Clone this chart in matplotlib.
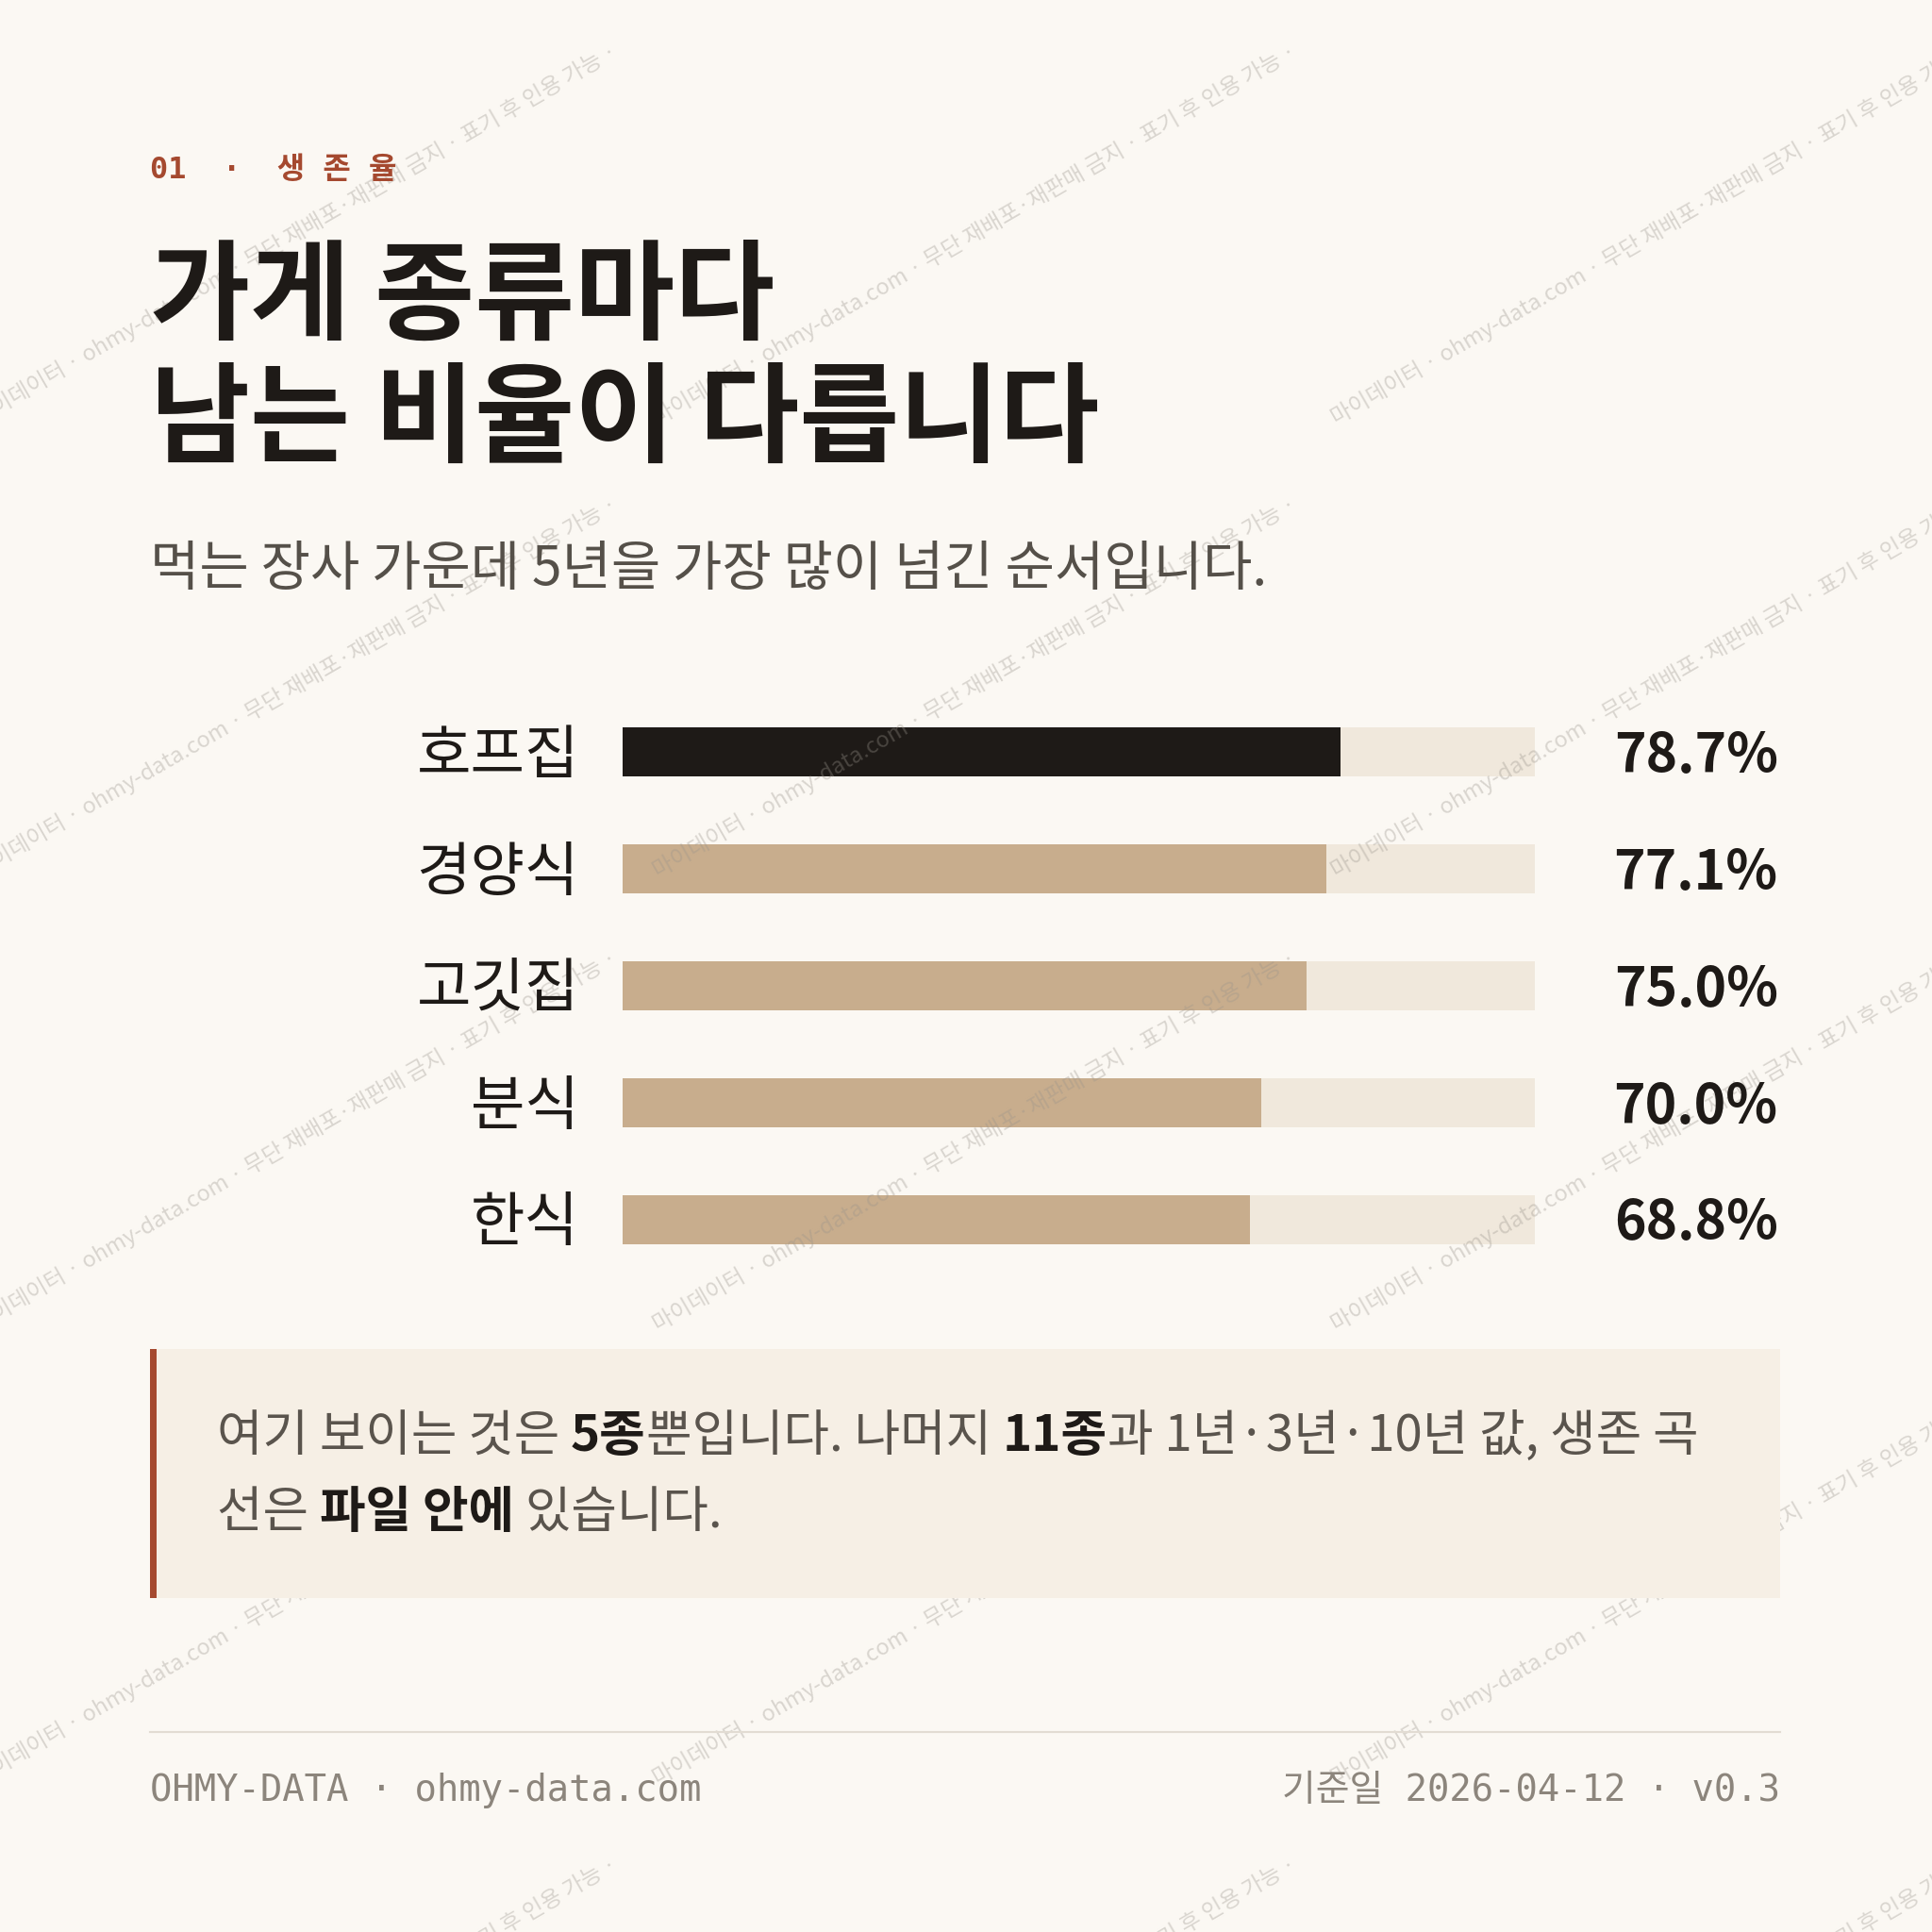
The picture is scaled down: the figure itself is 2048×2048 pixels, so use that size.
import matplotlib
matplotlib.use("Agg")
import matplotlib.pyplot as plt
from matplotlib.patches import Rectangle
from matplotlib.lines import Line2D
import matplotlib.transforms as mtransforms

categories = ["호프집", "경양식", "고깃집", "분식", "한식"]
values = [78.7, 77.1, 75.0, 70.0, 68.8]
value_labels = ["78.7%", "77.1%", "75.0%", "70.0%", "68.8%"]

BG = "#FBF8F3"; DARK = "#1E1A17"; TAN = "#C8AD8D"; TRACK = "#F0E8DC"; RUST = "#A5492F"
KR = ["Noto Sans CJK KR", "DejaVu Sans"]
MONO = ["DejaVu Sans Mono", "Noto Sans CJK KR"]
plt.rcParams['font.family'] = KR

S = 1568.0
fig = plt.figure(figsize=(20.48, 20.48), dpi=100, facecolor=BG)
def fx(x): return x / S
def fy(y): return 1 - y / S

# watermark
wm = "마이데이터 · ohmy-data.com · 무단 재배포·재판매 금지 · 표기 후 인용 가능 · "
for gx in range(-2, 4):
    for gy in range(0, 6):
        x0 = -20 + gx * 551
        y0 = 340 + gy * 368
        fig.text(fx(x0), fy(y0), wm, rotation=30, fontsize=17, color="#9A948C", alpha=0.35,
                 ha="left", va="center", rotation_mode="anchor", zorder=0, clip_on=True)

fig.text(fx(122), fy(138), "01  ·  생 존 율", family=MONO, fontsize=23, color=RUST,
         fontweight="bold", va="center", ha="left")
fig.text(fx(122), fy(243), "가게 종류마다", fontsize=83, fontweight="bold", color=DARK, va="center")
fig.text(fx(122), fy(343), "남는 비율이 다릅니다", fontsize=83, fontweight="bold", color=DARK, va="center")
fig.text(fx(122), fy(462), "먹는 장사 가운데 5년을 가장 많이 넘긴 순서입니다.", fontsize=41, color="#555049", va="center")

# bars
ax = fig.add_axes([fx(505), fy(1037), fx(1246) - fx(505), (1037 - 563) / S])
ax.set_facecolor("none")
ys = list(range(len(categories)))
ax.barh(ys, [100] * len(values), height=0.42, color=TRACK, zorder=1)
colors = [DARK] + [TAN] * (len(values) - 1)
ax.barh(ys, values, height=0.42, color=colors, zorder=2)
ax.set_xlim(0, 100); ax.set_ylim(len(categories) - 0.5, -0.5)
ax.axis("off")
tr = mtransforms.blended_transform_factory(fig.transFigure, ax.transData)
for i, (c, v) in enumerate(zip(categories, value_labels)):
    fig.text(fx(470), 0, c, transform=tr, fontsize=45, color=DARK, ha="right", va="center").set_y(i + 0.04)
    fig.text(fx(1443), 0, v, transform=tr, fontsize=41, fontweight="bold", color=DARK, ha="right", va="center").set_y(i + 0.04)

# note box
fig.patches.append(Rectangle((fx(122), fy(1297)), fx(1445) - fx(122), (1297 - 1095) / S,
                             transform=fig.transFigure, facecolor="#F6EFE5", edgecolor="none", zorder=1))
fig.patches.append(Rectangle((fx(122), fy(1297)), 5 / S, (1297 - 1095) / S,
                             transform=fig.transFigure, facecolor=RUST, edgecolor="none", zorder=2))

fig.canvas.draw()
renderer = fig.canvas.get_renderer()
def rich(x, y, parts, size=38):
    cx = fx(x)
    for t, b in parts:
        tx = fig.text(cx, fy(y), t, fontsize=size, fontweight="bold" if b else "normal",
                      color=DARK if b else "#5A544D", va="center", ha="left", zorder=3)
        bb = tx.get_window_extent(renderer).transformed(fig.transFigure.inverted())
        cx = bb.x1
rich(176, 1166, [("여기 보이는 것은 ", False), ("5종", True), ("뿐입니다. 나머지 ", False), ("11종", True),
                 ("과 1년·3년·10년 값, 생존 곡", False)])
rich(176, 1228, [("선은 ", False), ("파일 안에", True), (" 있습니다.", False)])

fig.add_artist(Line2D([fx(122), fx(1445)], [fy(1406), fy(1406)], transform=fig.transFigure,
                      color="#E2DCD3", lw=1.5))
fig.text(fx(122), fy(1453), "OHMY-DATA · ohmy-data.com", family=MONO, fontsize=28,
         color="#8C857C", va="center", ha="left")
fig.text(fx(1445), fy(1453), "기준일 2026-04-12 · v0.3", family=MONO, fontsize=28,
         color="#8C857C", va="center", ha="right")

fig.savefig("out.png", dpi=100, facecolor=BG)
